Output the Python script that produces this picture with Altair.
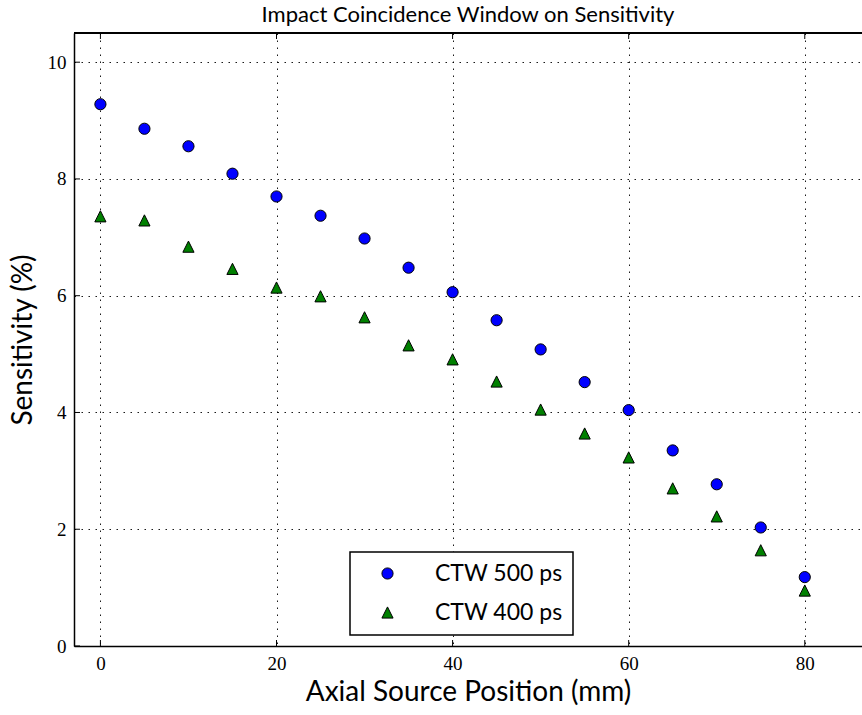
import altair as alt
import pandas as pd

# Axial source positions (mm) and measured sensitivities (%)
positions = [0, 5, 10, 15, 20, 25, 30, 35, 40, 45, 50, 55, 60, 65, 70, 75, 80]
ctw500 = [9.28, 8.86, 8.56, 8.09, 7.70, 7.37, 6.98, 6.48, 6.06, 5.58, 5.08,
          4.52, 4.04, 3.35, 2.77, 2.03, 1.18]
ctw400 = [7.36, 7.29, 6.84, 6.46, 6.14, 5.99, 5.63, 5.15, 4.91, 4.53, 4.05,
          3.64, 3.23, 2.70, 2.22, 1.64, 0.95]
series_names = ["CTW 500 ps", "CTW 400 ps"]
series_colors = ["#0000ff", "#008000"]
series_shapes = ["circle", "M0,-1L1,1L-1,1Z"]

x_ticks = [0, 20, 40, 60, 80]
y_ticks = [0, 2, 4, 6, 8, 10]

W, H = 788, 613
TICK = 6

rows = []
for name, vals in zip(series_names, [ctw500, ctw400]):
    for p, v in zip(positions, vals):
        rows.append({"pos": p, "sens": v, "series": name})
df = pd.DataFrame(rows)

xs = alt.Scale(domain=[-3, 86.5], nice=False, zero=False)
ys = alt.Scale(domain=[0, 10.5], nice=False, zero=False)

SANS = "Lato"
SERIF = "Liberation Serif"

legend = alt.Legend(
    title=None, orient="none", legendX=276, legendY=519,
    padding=10, fillColor="white", strokeColor="black",
    cornerRadius=0, symbolOffset=16, labelOffset=36, labelFont=SANS,
    labelFontSize=23, labelColor="black", rowPadding=15, symbolSize=125,
    symbolStrokeColor="black", symbolStrokeWidth=1,
)

points = alt.Chart(df).mark_point(
    filled=True, size=125, stroke="black", strokeWidth=1, opacity=1
).encode(
    x=alt.X("pos:Q", scale=xs, axis=alt.Axis(
        values=x_ticks, format="d", title="Axial Source Position (mm)",
        grid=True, ticks=False, labelPadding=8, titlePadding=5)),
    y=alt.Y("sens:Q", scale=ys, axis=alt.Axis(
        values=y_ticks, format="d", title="Sensitivity (%)",
        grid=True, ticks=False, labelPadding=8, titlePadding=10)),
    color=alt.Color("series:N", sort=series_names,
                    scale=alt.Scale(domain=series_names, range=series_colors),
                    legend=legend),
    shape=alt.Shape("series:N", sort=series_names,
                    scale=alt.Scale(domain=series_names, range=series_shapes),
                    legend=legend),
)

# inward tick marks on the bottom, top and left edges
xt = pd.DataFrame({"t": x_ticks})
yt = pd.DataFrame({"t": y_ticks})
bottom_ticks = alt.Chart(xt).mark_rule(color="black", strokeWidth=1).encode(
    x=alt.X("t:Q", scale=xs), y=alt.value(H), y2=alt.value(H - TICK))
top_ticks = alt.Chart(xt).mark_rule(color="black", strokeWidth=1).encode(
    x=alt.X("t:Q", scale=xs), y=alt.value(0), y2=alt.value(TICK))
left_ticks = alt.Chart(yt).mark_rule(color="black", strokeWidth=1).encode(
    y=alt.Y("t:Q", scale=ys), x=alt.value(0), x2=alt.value(TICK))
top_edge = alt.Chart(xt).mark_rule(color="black", strokeWidth=1.5).encode(
    x=alt.value(0), x2=alt.value(W), y=alt.value(0))

chart = alt.layer(points, bottom_ticks, top_ticks, left_ticks, top_edge).properties(
    width=W, height=H, background="white",
    title=alt.Title("Impact Coincidence Window on Sensitivity", font=SANS,
                    fontSize=22, fontWeight="normal", color="black",
                    anchor="middle", frame="group", offset=5),
    padding={"left": 74, "top": 33, "right": 0, "bottom": 69},
    autosize=alt.AutoSizeParams(type="none"),
).configure_view(stroke=None).configure_axis(
    domainColor="black", domainWidth=1.5,
    gridColor="black", gridDash=[1.5, 5.5], gridWidth=1, gridOpacity=0.9,
    labelFont=SERIF, labelFontSize=19, labelColor="black",
    titleFont=SANS, titleFontSize=28, titleFontWeight="normal", titleColor="black",
).configure_legend(strokeWidth=1.5)

chart.save("out.html", embed_options={"renderer": "svg", "actions": False})
